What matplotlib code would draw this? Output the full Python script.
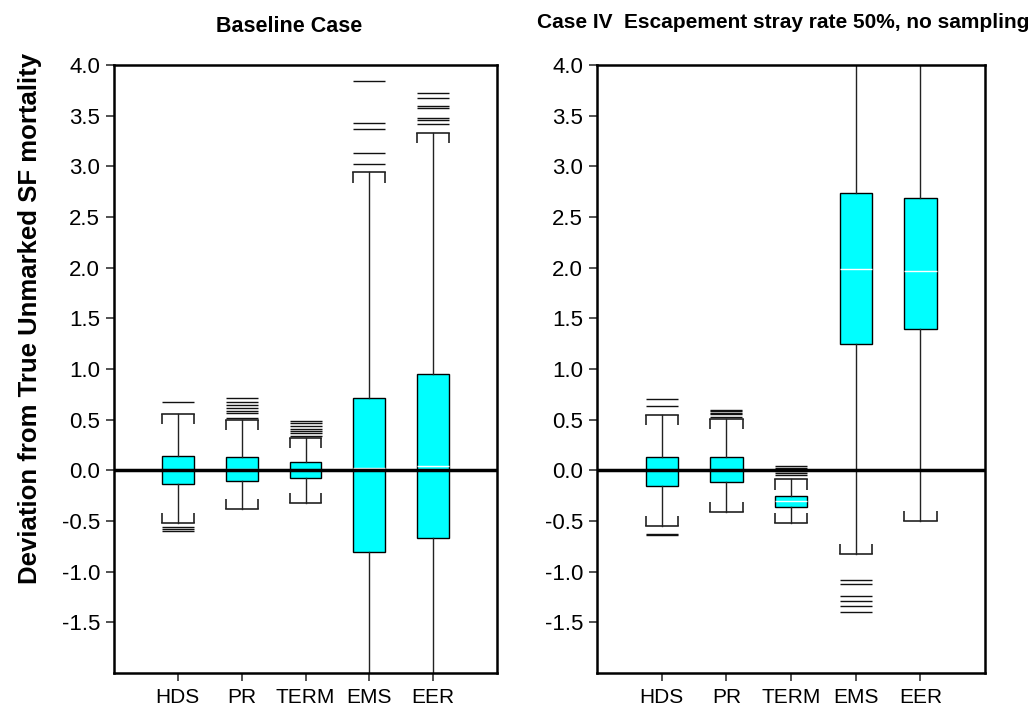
import numpy as np
import matplotlib
matplotlib.use('Agg')
import matplotlib.pyplot as plt
from matplotlib import font_manager

plt.rcParams['axes.unicode_minus'] = False

# categories and box statistics
categories = ['HDS', 'PR', 'TERM', 'EMS', 'EER']

base_q1 = [-0.13, -0.11, -0.08, -0.81, -0.67]
base_med = [0.0, 0.01, 0.0, 0.02, 0.04]
base_q3 = [0.14, 0.13, 0.08, 0.71, 0.95]
base_lo = [-0.52, -0.38, -0.32, -2.5, -2.5]
base_hi = [0.56, 0.50, 0.32, 2.94, 3.33]
base_out = [[0.67, -0.56, -0.58, -0.60],
            [0.71, 0.67, 0.64, 0.62, 0.59, 0.57, 0.52],
            [0.49, 0.47, 0.44, 0.41, 0.39, 0.37, 0.34],
            [3.84, 3.43, 3.37, 3.13, 3.02],
            [3.72, 3.67, 3.60, 3.58, 3.48, 3.46, 3.42]]

c4_q1 = [-0.15, -0.12, -0.36, 1.25, 1.39]
c4_med = [0.0, 0.0, -0.30, 1.99, 1.97]
c4_q3 = [0.13, 0.13, -0.25, 2.74, 2.69]
c4_lo = [-0.55, -0.41, -0.52, -0.83, -0.50]
c4_hi = [0.55, 0.51, -0.09, 4.5, 4.5]
c4_out = [[0.70, 0.63, -0.63, -0.64],
          [0.60, 0.585, 0.57, 0.555, 0.53],
          [0.04, 0.02, -0.01, -0.03, -0.05],
          [-1.08, -1.12, -1.24, -1.29, -1.34, -1.40],
          []]

y_ticks = [-1.5, -1.0, -0.5, 0.0, 0.5, 1.0, 1.5, 2.0, 2.5, 3.0, 3.5, 4.0]

# fonts: narrow face for titles / category labels if present
names = {f.name for f in font_manager.fontManager.ttflist}
narrow = 'Liberation Sans Narrow' if 'Liberation Sans Narrow' in names else 'Liberation Sans'
regular = 'Liberation Sans'

W, H = 1035, 714


def draw_panel(ax, q1, med, q3, lo, hi, outliers):
    pos = np.arange(1, len(categories) + 1)
    stats = []
    for i in range(len(categories)):
        stats.append(dict(med=med[i], q1=q1[i], q3=q3[i], whislo=lo[i], whishi=hi[i],
                          fliers=outliers[i], label=categories[i]))
    ax.bxp(stats, positions=pos, widths=0.5, capwidths=0.5, patch_artist=True, showfliers=True,
           boxprops=dict(facecolor='#00FFFF', edgecolor='black', linewidth=1.0),
           medianprops=dict(color='white', linewidth=1.0),
           whiskerprops=dict(color='#222222', linewidth=1.0),
           capprops=dict(color='#222222', linewidth=1.2),
           flierprops=dict(marker='_', markersize=23, markeredgewidth=1.0,
                           markeredgecolor='#111111', linestyle='none'))
    # small bracket ends on the caps, pointing toward the box
    for i, p in enumerate(pos):
        for y_cap, d in ((hi[i], -0.1), (lo[i], 0.1)):
            ax.vlines([p - 0.25, p + 0.25], y_cap, y_cap + d, color='#222222', linewidth=1.2)
    ax.axhline(0, color='black', linewidth=2.5, zorder=5)
    ax.set_xlim(0, 6)
    ax.set_ylim(-2.0, 4.0)
    ax.set_yticks(y_ticks)
    ax.set_yticklabels(['%.1f' % t for t in y_ticks], fontsize=16, family=regular)
    ax.set_xticks(pos)
    ax.set_xticklabels(categories, fontsize=15, family=narrow)
    ax.tick_params(axis='both', direction='out', length=6, width=1.2, color='#333333')
    ax.tick_params(axis='y', pad=4)
    ax.tick_params(axis='x', pad=5)
    for s in ax.spines.values():
        s.set_linewidth(1.8)
        s.set_color('black')


fig = plt.figure(figsize=(W / 100, H / 100), dpi=100)
ax1 = fig.add_axes([114 / W, (H - 673) / H, 383 / W, 608 / H])
ax2 = fig.add_axes([597 / W, (H - 673) / H, 388 / W, 608 / H])

draw_panel(ax1, base_q1, base_med, base_q3, base_lo, base_hi, base_out)
draw_panel(ax2, c4_q1, c4_med, c4_q3, c4_lo, c4_hi, c4_out)

fig.text(289 / W, 1 - 27 / H, 'Baseline Case', ha='center', va='center',
         fontsize=15.5, fontweight='bold', family=narrow)
fig.text(783 / W, 1 - 22 / H, 'Case IV  Escapement stray rate 50%, no sampling', ha='center', va='center',
         fontsize=15, fontweight='bold', family=narrow)
fig.text(30 / W, 1 - 318 / H, 'Deviation from True Unmarked SF mortality', rotation=90,
         ha='center', va='center', fontsize=18.5, fontweight='bold', family=regular)

fig.savefig('out.png', dpi=100)
